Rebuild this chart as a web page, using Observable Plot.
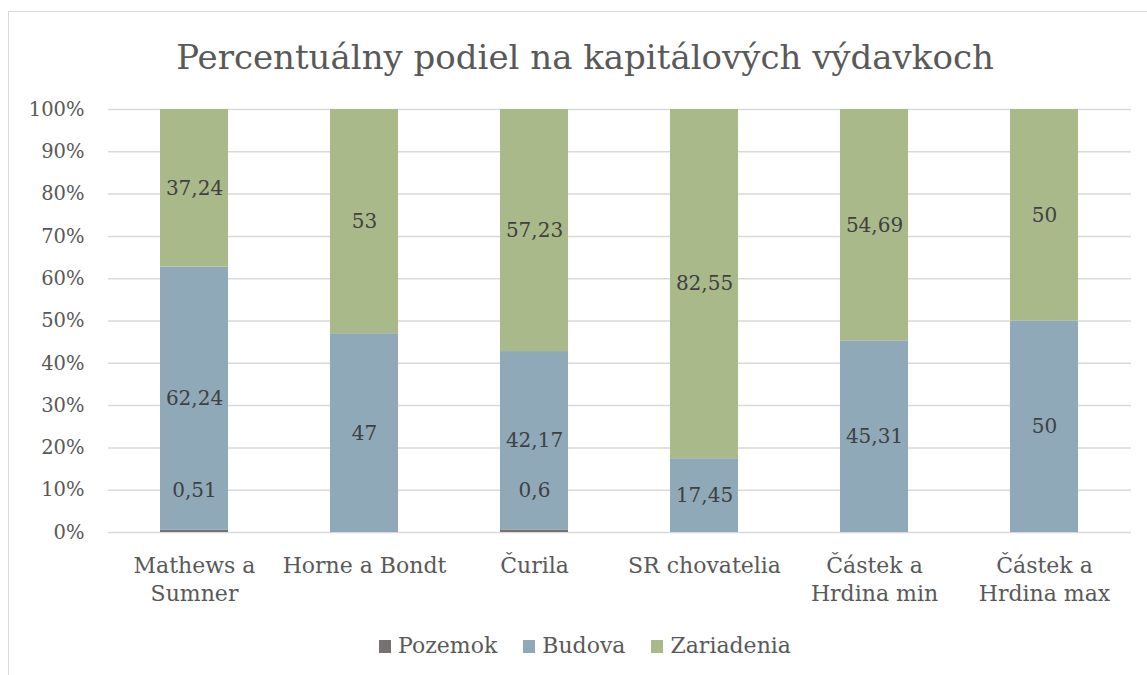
<!DOCTYPE html>
<html>
<head>
<meta charset="utf-8">
<script src="https://cdn.jsdelivr.net/npm/d3@7"></script>
<script src="https://cdn.jsdelivr.net/npm/@observablehq/plot@0.6"></script>
<style>
  html, body { margin: 0; padding: 0; background: #fff; width: 1147px; height: 675px; overflow: hidden; }
  body { position: relative; font-family: "DejaVu Serif", serif; color: #595959; }
  #frame { position: absolute; left: 8px; top: 11px; width: 1160px; height: 700px; border: 1px solid #d9d9d9; box-sizing: border-box; }
  #title { position: absolute; left: 8px; width: 1154px; top: 40px; height: 34px; line-height: 34px; font-size: 34px; text-align: center; white-space: nowrap; }
  #chart { position: absolute; left: 0; top: 90px; }
  #legend { position: absolute; left: 8px; width: 1154px; top: 635px; height: 24px; line-height: 22px; font-size: 22px; text-align: center; white-space: nowrap; }
  .item { display: inline-block; margin: 0 13px; }
  .sw { display: inline-block; width: 12px; height: 13px; margin-right: 7px; vertical-align: baseline; }
</style>
</head>
<body>
<div id="frame"></div>
<div id="title">Percentuálny podiel na kapitálových výdavkoch</div>
<div id="chart"></div>
<div id="legend"></div>
<script>
const categories = ["Mathews a Sumner", "Horne a Bondt", "Čurila", "SR chovatelia", "Částek a Hrdina min", "Částek a Hrdina max"];
const tickLabels = ["Mathews a\nSumner", "Horne a Bondt", "Čurila", "SR chovatelia", "Částek a\nHrdina min", "Částek a\nHrdina max"];
const seriesNames = ["Pozemok", "Budova", "Zariadenia"];
const pozemok = [0.51, 0, 0.6, 0, 0, 0];
const budova = [62.24, 47, 42.17, 17.45, 45.31, 50];
const zariadenia = [37.24, 53, 57.23, 82.55, 54.69, 50];
const seriesColors = ["#767171", "#8FA9B9", "#A9B98A"];
const yTicks = [0, 0.1, 0.2, 0.3, 0.4, 0.5, 0.6, 0.7, 0.8, 0.9, 1];

const seriesValues = [pozemok, budova, zariadenia];
const rows = [];
seriesNames.forEach((s, si) => {
  categories.forEach((c, ci) => {
    rows.push({ category: c, series: s, value: seriesValues[si][ci] });
  });
});
const fmt = v => String(v).replace(".", ",");
const stackOpts = { x: "category", y: "value", z: "series", offset: "normalize", order: seriesNames };

const chart = Plot.plot({
  width: 1147,
  height: 535,
  marginLeft: 108,
  marginRight: 16,
  marginTop: 19,
  marginBottom: 93,
  style: { fontFamily: "DejaVu Serif", fontSize: "20px", color: "#595959", background: "transparent" },
  x: { domain: categories, paddingInner: 0.6, paddingOuter: 0.3, label: null, axis: null },
  y: { domain: [0, 1], label: null, axis: null },
  color: { domain: seriesNames, range: seriesColors },
  marks: [
    Plot.gridY(yTicks, { stroke: "#d9d9d9", strokeOpacity: 1, strokeWidth: 1.5 }),
    Plot.axisY(yTicks, { tickSize: 0, tickPadding: 24, tickFormat: d3.format(".0%"), fontSize: 19.5, fill: "#595959" }),
    Plot.axisX({ tickSize: 0, tickPadding: 20, tickFormat: (d, i) => tickLabels[categories.indexOf(d)], lineAnchor: "top", lineHeight: 1.3, fontSize: 22, fill: "#595959" }),
    Plot.barY(rows, Plot.stackY({ ...stackOpts, fill: "series" })),
    Plot.text(rows, Plot.filter(d => d.value > 0 && d.series !== "Pozemok",
      Plot.stackY({ ...stackOpts, text: d => fmt(d.value), fill: "#404040", fontSize: 20 }))),
    Plot.text(rows, Plot.filter(d => d.value > 0 && d.series === "Pozemok",
      Plot.stackY({ ...stackOpts, text: d => fmt(d.value), fill: "#404040", fontSize: 20, dy: -41 })))
  ]
});
document.getElementById("chart").appendChild(chart);

const legend = document.getElementById("legend");
seriesNames.forEach((s, i) => {
  const item = document.createElement("span");
  item.className = "item";
  const sw = document.createElement("span");
  sw.className = "sw";
  sw.style.background = seriesColors[i];
  item.appendChild(sw);
  item.appendChild(document.createTextNode(s));
  legend.appendChild(item);
});
</script>
</body>
</html>
